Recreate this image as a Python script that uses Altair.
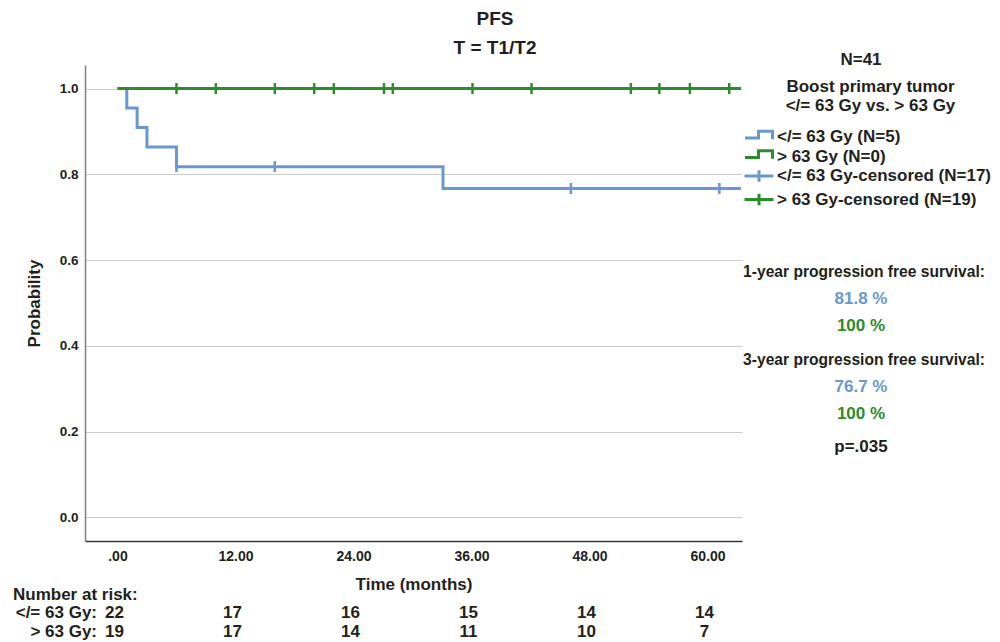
import altair as alt
import pandas as pd

# ---- data ----
blue_time = [0.0, 0.95, 2.0, 3.0, 6.0, 33.1, 63.4]
blue_surv = [1.0, 0.955, 0.909, 0.864, 0.818, 0.767, 0.767]
green_time = [0.0, 63.4]
green_surv = [1.0, 1.0]
blue_cens_time = [6.0, 16.0, 46.1, 61.2]
blue_cens_surv = [0.818, 0.818, 0.767, 0.767]
green_cens_time = [6.0, 10.0, 16.0, 20.0, 22.0, 27.1, 28.0, 36.1, 42.1, 52.2, 55.1, 58.2, 62.2]
green_cens_surv = [1.0, 1.0, 1.0, 1.0, 1.0, 1.0, 1.0, 1.0, 1.0, 1.0, 1.0, 1.0, 1.0]

legend_labels = ["</= 63 Gy (N=5)", "> 63 Gy (N=0)",
                 "</= 63 Gy-censored (N=17)", "> 63 Gy-censored (N=19)"]
x_ticks = [0, 12, 24, 36, 48, 60]
y_ticks = [0.0, 0.2, 0.4, 0.6, 0.8, 1.0]
risk_times = [0, 12, 24, 36, 48, 60]
risk_low = [22, 17, 16, 15, 14, 14]
risk_high = [19, 17, 14, 11, 10, 7]
pfs_1y = ["81.8 %", "100 %"]
pfs_3y = ["76.7 %", "100 %"]
p_value = "p=.035"
n_total = "N=41"

# ---- styles ----
BLUE = "#6A97D0"
GREEN = "#2B8C2B"
TXT = "#231F20"
FONT = "Liberation Sans"
STEP = "M-2,0.13H-0.07V-0.81H1.93V0.32"
PLUS = "M-2.07,0H2.07M0,-0.83V0.83"

xdef = alt.X(
    "t:Q",
    scale=alt.Scale(domain=[-3.3, 63.5], nice=False, zero=False),
    axis=alt.Axis(
        values=x_ticks, title="Time (months)", grid=False, ticks=False,
        labelExpr="datum.value == 0 ? '.00' : format(datum.value, '.2f')",
        labelFont=FONT, labelFontSize=14, labelFontWeight="bold", labelColor=TXT,
        labelPadding=8, domainColor="#333333", domainWidth=1.5,
        titleFont=FONT, titleFontSize=17, titleFontWeight="bold", titleColor=TXT,
        titlePadding=13,
    ),
)
ydef = alt.Y(
    "s:Q",
    scale=alt.Scale(domain=[-0.055, 1.055], nice=False, zero=False),
    axis=alt.Axis(
        values=y_ticks, format=".1f", title="Probability", grid=True,
        gridColor="#CCCCCC", gridWidth=1, ticks=False,
        labelFont=FONT, labelFontSize=13.5, labelFontWeight="bold", labelColor=TXT,
        labelPadding=7, domainColor="#808080", domainWidth=1.5,
        titleFont=FONT, titleFontSize=17, titleFontWeight="bold", titleColor=TXT,
        titlePadding=16,
    ),
)

blue_df = pd.DataFrame({"t": blue_time, "s": blue_surv})
green_df = pd.DataFrame({"t": green_time, "s": green_surv})
bc_df = pd.DataFrame({"t": blue_cens_time, "s": blue_cens_surv})
gc_df = pd.DataFrame({"t": green_cens_time, "s": green_cens_surv})
leg_df = pd.DataFrame({"label": legend_labels})

leg = alt.Legend(
    title=["Boost primary tumor", "</= 63 Gy vs. > 63 Gy"],
    orient="none", legendX=665.5, legendY=14, direction="vertical", padding=0,
    titleFont=FONT, titleFontSize=17, titleFontWeight="bold", titleColor=TXT,
    titleAlign="center", titleAnchor="middle", titleLineHeight=18.5,
    titlePadding=14, titleLimit=400,
    labelFont=FONT, labelFontSize=17, labelFontWeight="bold", labelColor=TXT,
    labelLimit=400, labelOffset=9.5,
    symbolSize=196, symbolStrokeWidth=3, symbolOpacity=1, rowPadding=-1.5,
)

legend_layer = alt.Chart(leg_df).mark_point(
    filled=False, opacity=0, strokeWidth=3, size=196
).encode(
    x=alt.value(0), y=alt.value(0),
    color=alt.Color("label:N", scale=alt.Scale(domain=legend_labels,
                    range=[BLUE, GREEN, BLUE, GREEN]), legend=leg),
    shape=alt.Shape("label:N", scale=alt.Scale(domain=legend_labels,
                    range=[STEP, STEP, PLUS, PLUS]), legend=leg),
)

blue_line = alt.Chart(blue_df).mark_line(
    interpolate="step-after", color=BLUE, strokeWidth=3
).encode(x=xdef, y=ydef)
green_line = alt.Chart(green_df).mark_line(
    interpolate="step-after", color=GREEN, strokeWidth=3
).encode(x=xdef, y=ydef)
blue_ticks = alt.Chart(bc_df).mark_tick(
    orient="vertical", color=BLUE, size=11, thickness=2.5, opacity=1
).encode(x=xdef, y=ydef)
green_ticks = alt.Chart(gc_df).mark_tick(
    orient="vertical", color=GREEN, size=11, thickness=2.5, opacity=1
).encode(x=xdef, y=ydef)

DUMMY = alt.Data(values=[{}])


def txt(text, x, y, size=17, color=TXT, align="center"):
    return alt.Chart(DUMMY).mark_text(
        text=text, font=FONT, fontSize=size, fontWeight="bold", color=color,
        align=align, baseline="middle"
    ).encode(x=alt.value(x), y=alt.value(y))


risk_low_df = pd.DataFrame({"t": risk_times, "n": risk_low})
risk_high_df = pd.DataFrame({"t": risk_times, "n": risk_high})
risk1 = alt.Chart(risk_low_df).mark_text(
    font=FONT, fontSize=17, fontWeight="bold", color=TXT, baseline="middle", dx=-3
).encode(x=xdef, y=alt.value(548), text="n:N")
risk2 = alt.Chart(risk_high_df).mark_text(
    font=FONT, fontSize=17, fontWeight="bold", color=TXT, baseline="middle", dx=-3
).encode(x=xdef, y=alt.value(567), text="n:N")

texts = [
    txt("PFS", 410, -46, size=19),
    txt("T = T1/T2", 410, -17, size=19),
    txt(n_total, 776, -5),
    txt("1-year progression free survival:", 779, 207, size=15.6),
    txt(pfs_1y[0], 776, 234, color=BLUE),
    txt(pfs_1y[1], 776, 261, color=GREEN),
    txt("3-year progression free survival:", 779, 295, size=15.6),
    txt(pfs_3y[0], 776, 322, color=BLUE),
    txt(pfs_3y[1], 776, 349, color=GREEN),
    txt(p_value, 776, 382),
    txt("Number at risk:", -72, 530, align="left"),
    txt("</= 63 Gy:", 12, 548, align="right"),
    txt("> 63 Gy:", 12, 567, align="right"),
]

chart = alt.layer(
    legend_layer, blue_line, green_line, blue_ticks, green_ticks, risk1, risk2, *texts
).properties(
    width=657, height=476,
    autosize=alt.AutoSizeParams(type="none"),
    padding={"left": 77, "top": 57, "right": 250, "bottom": 101},
).configure_view(stroke=None)

chart.save("out.html", embed_options={"renderer": "svg", "actions": False})
